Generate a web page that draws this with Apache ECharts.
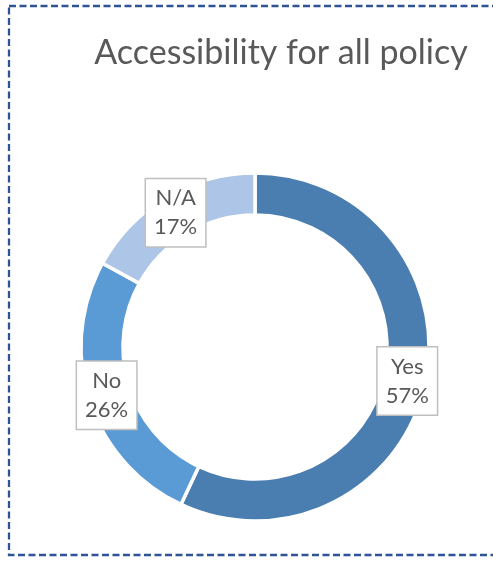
<!DOCTYPE html>
<html>
<head>
<meta charset="utf-8">
<style>
  html, body { margin: 0; padding: 0; background: #ffffff; }
  #chart { width: 493px; height: 563px; }
</style>
<script src="https://cdn.jsdelivr.net/npm/echarts@6/dist/echarts.min.js"></script>
</head>
<body>
<div id="chart"></div>
<script>
// Survey answers and their shares (percent)
const categories = ['Yes', 'No', 'N/A'];
const shares = [57, 26, 17];
const sliceColors = ['#4a7eb0', '#5b9bd5', '#adc6e7'];

const chart = echarts.init(document.getElementById('chart'), null, { renderer: 'canvas' });

const FONT = 'Lato, "Open Sans", sans-serif';

chart.setOption({
  backgroundColor: '#ffffff',
  animation: false,
  title: {
    text: 'Accessibility for all policy',
    left: 276,
    top: 31,
    textAlign: 'center',
    textStyle: {
      fontFamily: FONT,
      fontSize: 34,
      fontWeight: 'normal',
      color: '#595959'
    }
  },
  graphic: [{
    type: 'rect',
    shape: { x: 9, y: 6, width: 500, height: 549 },
    style: {
      fill: 'none',
      stroke: '#2f5496',
      lineWidth: 2.3,
      lineDash: [7, 3.5]
    },
    silent: true
  }],
  series: [{
    type: 'pie',
    center: [255, 347],
    radius: [132, 174],
    startAngle: 90,
    clockwise: true,
    avoidLabelOverlap: false,
    itemStyle: {
      borderColor: '#ffffff',
      borderWidth: 3.5
    },
    label: {
      show: true,
      position: 'inside',
      formatter: '{b}\n{c}%',
      fontFamily: FONT,
      fontSize: 22,
      lineHeight: 29,
      color: '#595959',
      backgroundColor: '#ffffff',
      borderColor: '#bfbfbf',
      borderWidth: 1.5,
      padding: [5, 8, 4, 8]
    },
    labelLine: { show: false },
    emphasis: { disabled: true },
    data: categories.map((name, i) => ({
      name: name,
      value: shares[i],
      itemStyle: { color: sliceColors[i] }
    }))
  }]
});
</script>
</body>
</html>
